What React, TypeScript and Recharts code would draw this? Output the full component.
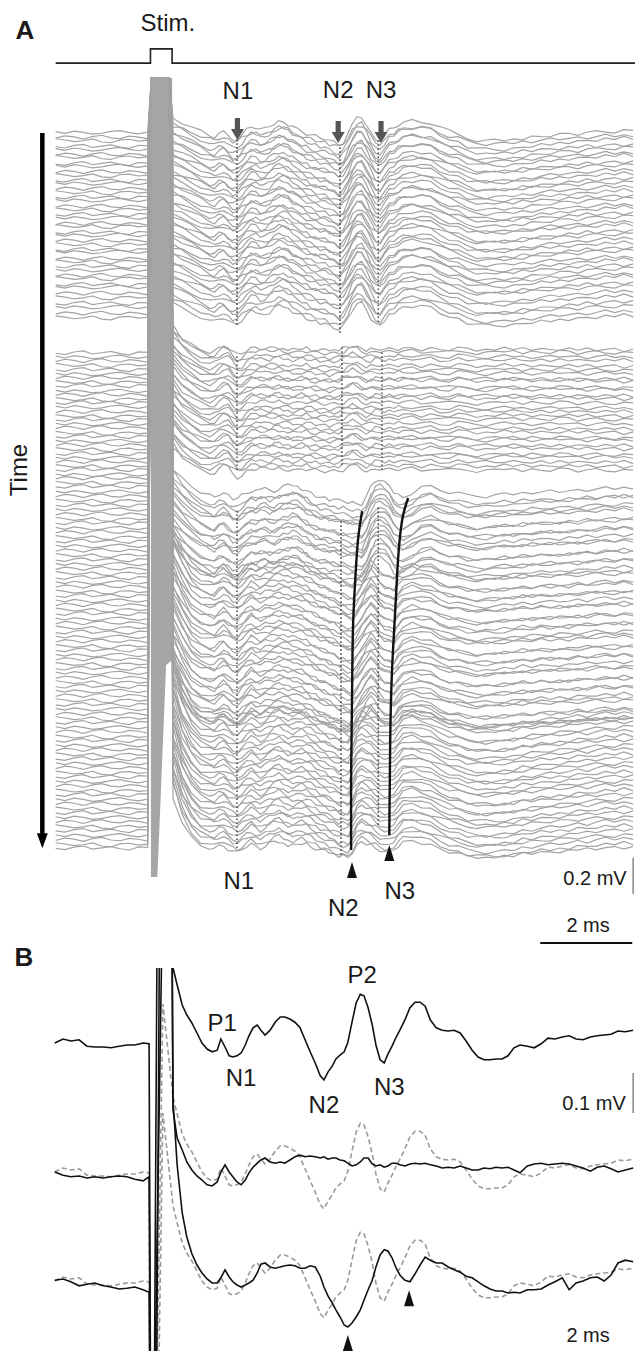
import React from "react";
import { ComposedChart, Line, Area, XAxis, YAxis, ReferenceLine, ReferenceDot } from "recharts";

const FONT = "'Liberation Sans', Arial, Helvetica, sans-serif";

// ---------- panel A: stacked single sweeps (time in ms, voltage in µV) ----------
const PRE_T = [-2.05, -1.85, -1.65, -1.45, -1.25, -1.05, -0.85, -0.65, -0.45, -0.25, -0.05];
const POST_T = [
  0.5, 0.7, 0.9, 1.1, 1.3, 1.4, 1.5, 1.6, 1.7, 1.8, 1.9, 2.0, 2.1, 2.2, 2.3, 2.4, 2.5, 2.6, 2.7, 2.8, 2.9,
  3.0, 3.1, 3.2, 3.3, 3.4, 3.5, 3.6, 3.7, 3.8, 3.9, 4.0, 4.1, 4.2, 4.3, 4.4, 4.5, 4.6, 4.7, 4.8, 4.9, 5.0,
  5.1, 5.2, 5.3, 5.4, 5.5, 5.7, 5.9, 6.1, 6.3, 6.5, 6.7, 6.9, 7.1, 7.3, 7.5, 7.7, 7.9, 8.1, 8.3, 8.5, 8.7,
  8.9, 9.1, 9.3, 9.5, 9.7, 9.9, 10.1, 10.3, 10.5,
];

const G1_WAVE = [
  77, 55, 28, 6, -17, -22, -6, 0, -22, -39, -33, -11, 17, 33, 33, 17, 17, 33, 50, 61, 61, 50, 33, 17, 6, -6,
  -17, -22, -28, -33, -44, -55, -66, -50, -6, 44, 77, 83, 50, 0, -39, -44, -17, 11, 28, 44, 55, 66, 66, 50,
  28, 6, -11, -28, -39, -44, -44, -44, -39, -33, -28, -22, -17, -11, -6, -6, 0, 0, 6, 6, 11, 11,
];
const G2_WAVE = [
  154, 88, 50, 22, 6, 11, 28, 44, 39, 11, -11, -6, 17, 28, 33, 33, 28, 28, 33, 33, 28, 28, 22, 22, 28, 28,
  22, 22, 22, 17, 17, 17, 22, 28, 39, 44, 39, 28, 22, 22, 28, 28, 22, 22, 28, 28, 28, 33, 28, 28, 22, 22,
  28, 28, 22, 22, 22, 28, 28, 22, 22, 22, 22, 28, 28, 22, 22, 22, 22, 22, 22, 22,
];
const G3_TOP_WAVE = [
  55, -6, -55, -88, -110, -121, -99, -88, -110, -132, -132, -110, -88, -77, -77, -66, -66, -77, -77, -66,
  -55, -50, -44, -50, -66, -83, -99, -110, -116, -121, -127, -132, -138, -143, -149, -154, -154, -160, -116,
  -61, -22, -6, -22, -55, -88, -110, -121, -88, -55, -55, -72, -88, -99, -105, -110, -110, -105, -99, -99,
  -94, -88, -88, -83, -83, -77, -77, -72, -72, -66, -66, -61, -61,
];
const G3_MID_WAVE = [
  176, 66, -22, -55, -72, -77, -55, -39, -61, -83, -88, -66, -39, -22, -33, -39, -28, -22, -16, -11, -11,
  -16, -22, -28, -33, -44, -55, -66, -77, -88, -99, -110, -121, -132, -143, -149, -121, -77, -33, -11, -28,
  -61, -88, -99, -99, -66, -44, -22, -28, -44, -66, -83, -94, -99, -105, -105, -105, -99, -94, -88, -88,
  -83, -83, -77, -77, -72, -72, -66, -66, -66, -61, -61,
];
const G3_BOT_WAVE = [
  341, 165, 66, 17, 0, -5, 11, 17, -5, -22, -28, -11, 11, 22, 11, 0, 11, 28, 39, 44, 33, 22, 17, 22, 28, 22,
  11, 0, -11, -22, -33, -44, -55, -61, -66, -33, 17, 39, 33, 17, 0, -17, -28, -33, -11, 17, 39, 50, 39, 17,
  -5, -28, -44, -55, -61, -66, -66, -61, -55, -44, -39, -33, -28, -22, -17, -11, -11, -5, 0, 0, 6, 6,
];

const JITTER = [
  [6, -4, 9, 2, -8, -3, 7, 12, 1, -6, 4, 3, -7, 5, 10, -2, -9, 4, 11, 6, -5, -10, 2, 8, -3, -11, 5, 13, 0, -6, 7, -4, -12, 3, 9, 1, -8, 6, 12, -2, -7, 4, 10, -5, -13, 2, 8, 11, -3, -9, 5, 0, -6, 9, 13, -1, -8, 3, 7, -10, -4, 6, 12, 2, -7, -11, 4, 9, -2, 5, -6, 10, 1, -5, 7, 3, -9, 4, 11, -3, -8, 6, 2],
  [-5, 8, 2, -10, 4, 11, -3, -7, 6, 1, -9, -6, 9, 2, -4, 12, 5, -8, -3, 10, -1, 7, 13, -6, -10, 3, -2, 8, 4, -11, -5, 9, 12, -3, 0, -9, 6, 11, -7, -2, 5, -12, 3, 8, 1, -6, 10, -4, -9, 6, 13, -1, -8, 2, 7, -5, 11, 0, -10, 4, 9, -3, -7, 12, 5, -2, -11, 3, 8, -4, 6, -8, 2, 10, -5, -1, 7, -9, 4, 12, -3, 5, -6],
  [10, 3, -6, -1, 9, -8, -12, 4, 7, -3, 2, 8, 1, -5, -11, 3, 9, -2, -7, 6, 12, -4, -9, 1, 10, -6, 4, -1, -12, 7, 11, -3, 2, -8, 5, 13, -5, -1, 8, -10, 3, 6, -7, -2, 11, 4, -9, 0, 7, -5, -12, 9, 3, -4, 10, -8, 1, 6, -11, 2, 12, -6, -3, 8, -9, 4, 11, -1, -7, 5, 0, -4, 9, -6, 3, -10, 6, 1, -5, 8, -2, 11, -7],
  [-2, -9, 5, 11, -6, 1, 8, -4, -11, 6, 3, -3, 6, 12, -1, -8, 4, 10, -5, -12, 2, 7, 0, -6, 9, 5, -10, -3, 11, 6, -7, 1, -9, 8, 3, -4, 12, -6, -11, 2, 9, -2, 5, -8, 13, 0, -5, 7, 3, -10, 10, -3, -7, 4, 11, -1, -9, 6, 2, -12, 8, 1, -6, 10, 4, -8, 3, -2, 9, -5, 12, -4, 7, 1, -9, 5, -3, 10, -6, 2, 8, -11, 4],
];
const GAINS = [1, 0.8, 1.15, 0.9, 1.2, 0.85, 1.05];

const G1_BASE = [
  4495, 4470, 4452, 4420, 4402, 4375, 4360, 4325, 4310, 4280, 4260, 4232, 4215, 4188, 4166, 4140, 4122,
  4090, 4072, 4045, 4025, 3995, 3980, 3946, 3930, 3902, 3880, 3852, 3838, 3803, 3786, 3760, 3738, 3710,
  3694, 3660, 3644, 3612, 3588, 3556, 3534, 3502, 3478,
];
const G2_BASE = [
  3284, 3260, 3241, 3216, 3192, 3166, 3148, 3122, 3104, 3072, 3055, 3028, 3010, 2985, 2961, 2935, 2917,
  2891, 2873, 2842, 2824, 2797, 2779, 2753, 2730, 2704, 2686, 2660, 2642, 2612,
];
const G3_TOP_BASE = [2596, 2568, 2549, 2518, 2498, 2470, 2447, 2420, 2398, 2369, 2349, 2318, 2299, 2269, 2248, 2220, 2198, 2170];
const G3_MID_BASE = [
  2146, 2120, 2098, 2071, 2048, 2019, 2000, 1969, 1949, 1919, 1899, 1870, 1850, 1819, 1799, 1771, 1748,
  1720, 1699, 1670, 1650, 1620, 1600, 1571, 1549, 1522, 1499, 1471, 1450, 1422, 1400, 1372, 1350, 1323,
];
const G3_BOT_BASE = [
  1299, 1273, 1251, 1222, 1202, 1172, 1152, 1123, 1102, 1074, 1052, 1024, 1003, 974, 953, 925, 904, 875,
  854, 826, 805, 776, 755, 727, 706, 678, 657, 628, 608, 580, 561,
];

// stimulus artifact: every sweep saturates at the top of the panel
const ART_T = [0.03, 0.42];
const ART_TOP = 4796;
const BAND_T = [0.02, 0.16, 0.35, 0.48];
const BAND_LOW = [402, 402, 1568, 1595];

const STIM_T = [-2.05, 0.01, 0.01, 0.48, 0.48, 10.54];
const STIM_V = [4878, 4878, 4956, 4956, 4878, 4878];

// latency drift of N2 / N3 in the last block
const N2_CURVE_T = [4.61, 4.52, 4.46, 4.41, 4.39, 4.37, 4.37];
const N2_CURVE_V = [2414, 2255, 2035, 1760, 1375, 935, 550];
const N3_CURVE_T = [5.61, 5.48, 5.39, 5.33, 5.26, 5.22, 5.2];
const N3_CURVE_V = [2486, 2365, 2145, 1870, 1540, 1155, 632];

const MARKS = [
  { t: 1.89, from: 3438, to: 4472 },
  { t: 1.89, from: 2640, to: 3273 },
  { t: 1.89, from: 561, to: 2420 },
  { t: 4.13, from: 3394, to: 4428 },
  { t: 4.17, from: 2668, to: 3328 },
  { t: 4.15, from: 523, to: 2365 },
  { t: 4.96, from: 3454, to: 4455 },
  { t: 5.04, from: 2640, to: 3300 },
  { t: 4.96, from: 688, to: 2448 },
];

// ---------- panel B: averaged responses ----------
const B_PRE_T = [-2.07, -1.89, -1.72, -1.54, -1.37, -1.2, -1.02, -0.85, -0.67, -0.5, -0.33, -0.15, -0.02];
const B_POST_T = [
  0.5, 0.59, 0.7, 0.8, 0.91, 1.02, 1.13, 1.24, 1.35, 1.46, 1.54, 1.63, 1.72, 1.8, 1.89, 1.98, 2.07, 2.15,
  2.24, 2.33, 2.41, 2.5, 2.61, 2.72, 2.83, 2.93, 3.04, 3.15, 3.26, 3.37, 3.48, 3.59, 3.7, 3.78, 3.87, 3.96,
  4.04, 4.13, 4.22, 4.3, 4.39, 4.48, 4.57, 4.65, 4.74, 4.83, 4.91, 5.0, 5.09, 5.17, 5.26, 5.35, 5.43, 5.54,
  5.65, 5.76, 5.87, 5.98, 6.09, 6.22, 6.35, 6.48, 6.61, 6.74, 6.87, 7.0, 7.13, 7.26, 7.39, 7.52, 7.65, 7.78,
  7.91, 8.04, 8.2, 8.35, 8.5, 8.65, 8.8, 8.96, 9.11, 9.26, 9.41, 9.57, 9.72, 9.87, 10.02, 10.17, 10.33, 10.5,
];
const B_TOP_PRE = [0, 10, 5, 8, -8, -10, -10, -12, -8, -5, -5, 0, -2];
const B_TOP_POST = [
  188, 145, 95, 70, 50, 25, 0, -15, -22, -18, 10, -10, -32, -35, -32, -25, -5, 18, 38, 45, 32, 20, 32, 52,
  65, 65, 60, 52, 38, 8, -22, -50, -82, -92, -72, -58, -40, -30, -22, 2, 52, 100, 122, 118, 88, 45, -5, -42,
  -50, -28, -8, 15, 32, 58, 88, 102, 102, 92, 58, 38, 32, 30, 32, 25, 5, -18, -35, -42, -42, -40, -40, -32,
  -12, -5, -8, -12, -2, 12, 10, 15, 18, 10, 8, 15, 18, 20, 22, 30, 28, 32,
];
const B_MID_PRE = [10, 2, -2, 0, -5, -2, -5, -2, 0, -2, -8, -12, -2];
const B_MID_POST = [
  165, 95, 65, 35, 15, 0, -10, -22, -25, -15, 10, 28, 10, -2, -15, -22, -10, 8, 22, 32, 40, 45, 35, 32, 35,
  32, 40, 48, 52, 48, 50, 48, 45, 48, 42, 45, 45, 40, 38, 32, 25, 28, 35, 45, 45, 30, 25, 28, 22, 25, 32, 32,
  28, 25, 30, 32, 30, 32, 28, 25, 20, 22, 20, 25, 20, 15, 15, 20, 18, 22, 20, 22, 15, 8, 25, 30, 32, 28, 30,
  32, 30, 25, 20, 12, 22, 25, 18, 10, 15, 20,
];
const B_BOT_PRE = [12, 15, 8, -2, 2, 5, -2, -5, -10, -8, -5, -12, -18];
const B_BOT_POST = [
  462, 300, 180, 120, 78, 50, 30, 15, 5, 5, 18, 38, 20, 8, 0, -5, 0, 5, 12, 30, 52, 55, 45, 42, 45, 48, 50,
  48, 42, 42, 48, 45, 22, -5, -28, -45, -62, -80, -100, -105, -95, -80, -62, -38, -12, 12, 45, 75, 88, 85,
  68, 42, 25, 12, 8, 28, 50, 70, 62, 55, 55, 45, 38, 32, 22, 18, 8, -2, -10, -15, -15, -20, -18, -20, -12,
  -12, -10, 0, 8, 18, -12, 5, 10, 18, 20, 10, 25, 55, 62, 58,
];
const B_TOP_ART = { t: [0.03, 0.28], v: [-1400, 420] };
const B_MID_ART = { t: [0.05, 0.2, 0.43], v: [-1400, 1500, 1500] };
const B_BOT_ART = { t: [0.08, 0.24, 0.45], v: [-1400, 1500, 1500] };
const B_BASELINES = [770, 437.5, 165];
const B_OVERLAY_BASELINES = [447.5, 175];

// ---------- annotation specs ----------
type TextMark = { text: string; t: number; v: number; size: number; bold?: boolean; angle?: number };
const A_TEXT: TextMark[] = [
  { text: "A", t: -2.72, v: 5060, size: 26, bold: true },
  { text: "Stim.", t: 0.39, v: 5104, size: 24 },
  { text: "N1", t: 1.91, v: 4730, size: 24 },
  { text: "N2", t: 4.09, v: 4735, size: 24 },
  { text: "N3", t: 5.02, v: 4735, size: 24 },
  { text: "Time", t: -2.85, v: 2640, size: 24, angle: -90 },
  { text: "N1", t: 1.93, v: 380, size: 24 },
  { text: "N2", t: 4.2, v: 236, size: 24 },
  { text: "N3", t: 5.43, v: 330, size: 24 },
  { text: "0.2 mV", t: 9.67, v: 396, size: 20 },
  { text: "2 ms", t: 9.52, v: 137, size: 20 },
];
const B_TEXT: TextMark[] = [
  { text: "B", t: -2.74, v: 985, size: 26, bold: true },
  { text: "P1", t: 1.57, v: 822, size: 24 },
  { text: "N1", t: 1.98, v: 685, size: 24 },
  { text: "P2", t: 4.61, v: 942, size: 24 },
  { text: "N2", t: 3.78, v: 617, size: 24 },
  { text: "N3", t: 5.2, v: 662, size: 24 },
  { text: "0.1 mV", t: 9.65, v: 620, size: 20 },
  { text: "2 ms", t: 9.52, v: 40, size: 20 },
];
const GRAY_ARROWS = [
  { t: 1.9, v: 4455 },
  { t: 4.09, v: 4438 },
  { t: 5.02, v: 4438 },
];
const A_HEADS = [
  { t: 4.39, v: 484 },
  { t: 5.2, v: 577 },
];
const B_HEADS = [
  { t: 4.3, v: 40 },
  { t: 5.63, v: 152 },
];

type Pt = { t: number; v: number };

const buildSweep = (base: number, wave: number[], i: number): Pt[] => {
  const j = JITTER[i % JITTER.length];
  const g = GAINS[i % GAINS.length];
  const pts: Pt[] = PRE_T.map((t, k) => ({ t, v: base + (j[k] ?? 0) }));
  ART_T.forEach((t) => pts.push({ t, v: ART_TOP }));
  POST_T.forEach((t, k) => pts.push({ t, v: base + (wave[k] ?? 0) * g + (j[PRE_T.length + k] ?? 0) }));
  return pts;
};

const GROUPS = [
  { base: G1_BASE, wave: G1_WAVE },
  { base: G2_BASE, wave: G2_WAVE },
  { base: G3_TOP_BASE, wave: G3_TOP_WAVE },
  { base: G3_MID_BASE, wave: G3_MID_WAVE },
  { base: G3_BOT_BASE, wave: G3_BOT_WAVE },
];
let sweepNo = 0;
const SWEEPS = GROUPS.flatMap((g) => g.base.map((b) => buildSweep(b, g.wave, sweepNo++)));

const BAND = BAND_T.map((t, k) => ({ t, range: [BAND_LOW[k], ART_TOP] }));
const STIM = STIM_T.map((t, k) => ({ t, v: STIM_V[k] }));
const N2_CURVE = N2_CURVE_T.map((t, k) => ({ t, v: N2_CURVE_V[k] }));
const N3_CURVE = N3_CURVE_T.map((t, k) => ({ t, v: N3_CURVE_V[k] }));

const buildAvg = (pre: number[], art: { t: number[]; v: number[] }, post: number[], offset: number): Pt[] => [
  ...B_PRE_T.map((t, k) => ({ t, v: offset + (pre[k] ?? 0) })),
  ...art.t.map((t, k) => ({ t, v: offset + art.v[k] })),
  ...B_POST_T.map((t, k) => ({ t, v: offset + (post[k] ?? 0) })),
];
const B_BLACK = [
  buildAvg(B_TOP_PRE, B_TOP_ART, B_TOP_POST, B_BASELINES[0]),
  buildAvg(B_MID_PRE, B_MID_ART, B_MID_POST, B_BASELINES[1]),
  buildAvg(B_BOT_PRE, B_BOT_ART, B_BOT_POST, B_BASELINES[2]),
];
const B_DASHED = B_OVERLAY_BASELINES.map((o) => buildAvg(B_TOP_PRE, B_TOP_ART, B_TOP_POST, o));

const textShape = (m: TextMark) => (p: any) => (
  <text
    x={p.cx}
    y={p.cy}
    textAnchor="middle"
    dominantBaseline="central"
    fontSize={m.size}
    fontWeight={m.bold ? 700 : 400}
    fontFamily={FONT}
    fill="#1a1a1a"
    transform={m.angle ? `rotate(${m.angle} ${p.cx} ${p.cy})` : undefined}
  >
    {m.text}
  </text>
);

const grayArrow = (p: any) => {
  const { cx, cy } = p;
  return (
    <polygon
      points={`${cx - 2.6},${cy - 22} ${cx + 2.6},${cy - 22} ${cx + 2.6},${cy - 11} ${cx + 6.5},${cy - 11} ${cx},${cy} ${cx - 6.5},${cy - 11} ${cx - 2.6},${cy - 11}`}
      fill="#555"
    />
  );
};

const headUp = (p: any) => (
  <polygon points={`${p.cx},${p.cy} ${p.cx + 5},${p.cy + 16} ${p.cx - 5},${p.cy + 16}`} fill="#111" />
);
const headDown = (p: any) => (
  <polygon points={`${p.cx},${p.cy} ${p.cx + 5.5},${p.cy - 15} ${p.cx - 5.5},${p.cy - 15}`} fill="#000" />
);

const X_DOMAIN: [number, number] = [-3.26, 10.54];

const App: React.FC = () => {
  return (
    <div style={{ position: "absolute", left: 0, top: 0, width: 635, height: 1351, background: "#fff", overflow: "hidden" }}>
      <div style={{ position: "absolute", left: 0, top: 0 }}>
        <ComposedChart width={635} height={950} margin={{ top: 0, right: 0, bottom: 0, left: 0 }}>
          <XAxis type="number" dataKey="t" domain={X_DOMAIN} hide allowDataOverflow />
          <YAxis type="number" domain={[0, 5225]} hide allowDataOverflow />
          <Area data={BAND} dataKey="range" type="linear" stroke="none" fill="#a6a6a6" fillOpacity={1} activeDot={false} isAnimationActive={false} />
          {SWEEPS.map((d, i) => (
            <Line key={`sw-${i}`} data={d} dataKey="v" type="linear" stroke="#a3a3a3" strokeWidth={1.2} dot={false} activeDot={false} isAnimationActive={false} />
          ))}
          {MARKS.map((m, i) => (
            <ReferenceLine key={`mk-${i}`} segment={[{ x: m.t, y: m.from }, { x: m.t, y: m.to }]} stroke="#555" strokeWidth={1.6} strokeDasharray="1.6 2.4" />
          ))}
          <Line data={N2_CURVE} dataKey="v" type="natural" stroke="#111" strokeWidth={2.4} dot={false} activeDot={false} isAnimationActive={false} />
          <Line data={N3_CURVE} dataKey="v" type="natural" stroke="#111" strokeWidth={2.4} dot={false} activeDot={false} isAnimationActive={false} />
          <Line data={STIM} dataKey="v" type="linear" stroke="#222" strokeWidth={1.6} dot={false} activeDot={false} isAnimationActive={false} />
          <ReferenceLine segment={[{ x: -2.34, y: 4494 }, { x: -2.34, y: 640 }]} stroke="#000" strokeWidth={4.5} />
          <ReferenceDot x={-2.34} y={560} r={0} shape={headDown} />
          {GRAY_ARROWS.map((a, i) => (
            <ReferenceDot key={`ga-${i}`} x={a.t} y={a.v} r={0} shape={grayArrow} />
          ))}
          {A_HEADS.map((a, i) => (
            <ReferenceDot key={`ah-${i}`} x={a.t} y={a.v} r={0} shape={headUp} />
          ))}
          <ReferenceLine segment={[{ x: 10.5, y: 308 }, { x: 10.5, y: 508 }]} stroke="#888" strokeWidth={1.5} />
          <ReferenceLine segment={[{ x: 8.48, y: 38 }, { x: 10.48, y: 38 }]} stroke="#111" strokeWidth={2} />
          {A_TEXT.map((m, i) => (
            <ReferenceDot key={`at-${i}`} x={m.t} y={m.v} r={0} shape={textShape(m)} />
          ))}
        </ComposedChart>
      </div>
      <div style={{ position: "absolute", left: 0, top: 938 }}>
        <ComposedChart width={635} height={413} margin={{ top: 30, right: 0, bottom: 0, left: 0 }}>
          <XAxis type="number" dataKey="t" domain={X_DOMAIN} hide allowDataOverflow />
          <YAxis type="number" domain={[0, 957.5]} hide allowDataOverflow />
          {B_DASHED.map((d, i) => (
            <Line key={`bd-${i}`} data={d} dataKey="v" type="linear" stroke="#9a9a9a" strokeWidth={1.6} strokeDasharray="5 3" dot={false} activeDot={false} isAnimationActive={false} />
          ))}
          {B_BLACK.map((d, i) => (
            <Line key={`bb-${i}`} data={d} dataKey="v" type="linear" stroke="#111" strokeWidth={1.6} dot={false} activeDot={false} isAnimationActive={false} />
          ))}
          {B_HEADS.map((a, i) => (
            <ReferenceDot key={`bh-${i}`} x={a.t} y={a.v} r={0} shape={headUp} />
          ))}
          <ReferenceLine segment={[{ x: 10.5, y: 595 }, { x: 10.5, y: 695 }]} stroke="#888" strokeWidth={1.5} />
          {B_TEXT.map((m, i) => (
            <ReferenceDot key={`bt-${i}`} x={m.t} y={m.v} r={0} ifOverflow="visible" shape={textShape(m)} />
          ))}
        </ComposedChart>
      </div>
    </div>
  );
};

export default App;
